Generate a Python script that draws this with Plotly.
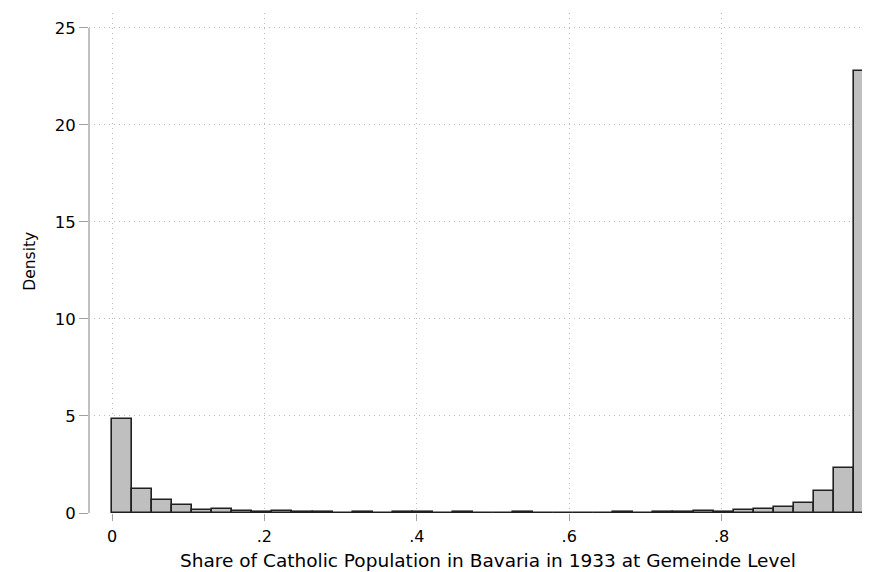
import plotly.graph_objects as go

# Histogram of share of Catholic population (38 equal bins on [0, 1])
n_bins = 38
bin_lo = 0.0
bin_hi = 1.0
density = [
    4.83, 1.22, 0.69, 0.39, 0.17, 0.22, 0.12, 0.07, 0.12, 0.03,
    0.03, 0.02, 0.03, 0.02, 0.04, 0.03, 0.02, 0.03, 0.02, 0.0,
    0.03, 0.02, 0.02, 0.0, 0.02, 0.03, 0.02, 0.03, 0.03, 0.12,
    0.07, 0.15, 0.21, 0.29, 0.53, 1.13, 2.30, 22.8,
]
x_tickvals = [0, 0.2, 0.4, 0.6, 0.8, 1]
x_ticktext = ["0", ".2", ".4", ".6", ".8", "1"]
y_tickvals = [0, 5, 10, 15, 20, 25]
y_ticktext = ["0", "5", "10", "15", "20", "25"]
x_title = "Share of Catholic Population in Bavaria in 1933 at Gemeinde Level"
y_title = "Density"

bw = (bin_hi - bin_lo) / n_bins
centers = [bin_lo + (i + 0.5) * bw for i in range(n_bins)]

FONT = "DejaVu Sans, Liberation Sans, Arial, sans-serif"
AXIS_GRAY = "#a0a0a0"
GRID_GRAY = "#b9b9b9"

fig = go.Figure()
fig.add_trace(go.Bar(
    x=centers, y=density, width=[bw] * n_bins,
    marker=dict(color="#bfbfbf", line=dict(color="#202020", width=1.6)),
    showlegend=False, hoverinfo="x+y",
))

# axis lines spanning the tick range only (Stata style)
fig.add_shape(type="line", xref="x", yref="y", x0=0, x1=1, y0=0, y1=0,
              line=dict(color=AXIS_GRAY, width=1.3), layer="below")
fig.add_shape(type="line", xref="paper", yref="y", x0=0, x1=0, y0=0, y1=25,
              line=dict(color=AXIS_GRAY, width=1.3), layer="below")

# axis titles as annotations for exact placement
fig.add_annotation(text=x_title, xref="paper", yref="paper",
                   x=0.5076, y=-0.094, xanchor="center", yanchor="middle",
                   showarrow=False, font=dict(size=18.5, family=FONT, color="black"))
fig.add_annotation(text=y_title, xref="paper", yref="paper",
                   x=-0.0754, y=0.504, xanchor="center", yanchor="middle",
                   textangle=-90, showarrow=False,
                   font=dict(size=15.5, family=FONT, color="black"))

fig.update_layout(
    width=870, height=572,
    margin=dict(l=81, r=3, t=5, b=67),
    paper_bgcolor="white", plot_bgcolor="white",
    font=dict(family=FONT, size=16, color="black"),
    bargap=0,
    xaxis=dict(
        range=[-0.0302, 1.0013],
        tickmode="array", tickvals=x_tickvals, ticktext=x_ticktext,
        ticks="outside", ticklen=7, tickcolor=AXIS_GRAY, tickwidth=1.3,
        ticklabelstandoff=2,
        showgrid=True, gridcolor=GRID_GRAY, griddash="1px,4px", gridwidth=1,
        showline=False, zeroline=False,
        tickfont=dict(size=16),
    ),
    yaxis=dict(
        range=[0, 25.77],
        tickmode="array", tickvals=y_tickvals, ticktext=y_ticktext,
        ticks="outside", ticklen=9, tickcolor=AXIS_GRAY, tickwidth=1.3,
        showgrid=True, gridcolor=GRID_GRAY, griddash="1px,4px", gridwidth=1,
        showline=False, zeroline=False,
        tickfont=dict(size=16.5),
    ),
)

fig.write_html("out.html")
